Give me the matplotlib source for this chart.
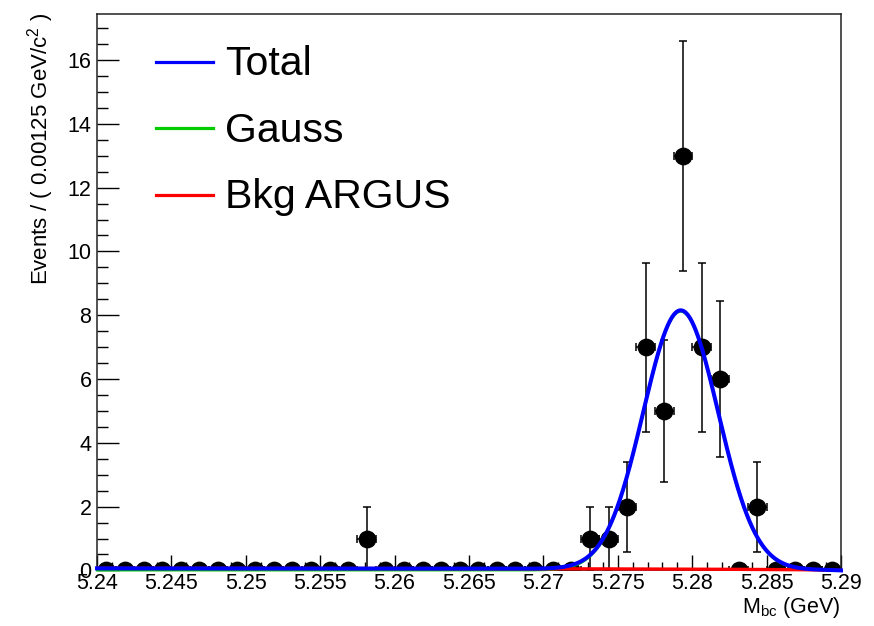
import numpy as np
import matplotlib
matplotlib.use("Agg")
import matplotlib.pyplot as plt
from matplotlib.lines import Line2D
from matplotlib.ticker import MultipleLocator, FuncFormatter

plt.rcParams['font.family'] = ['Liberation Sans', 'DejaVu Sans']
plt.rcParams['mathtext.fontset'] = 'custom'
plt.rcParams['mathtext.rm'] = 'Liberation Sans'
plt.rcParams['mathtext.it'] = 'Liberation Sans:italic'

# Histogram binning of M_bc
x_min, x_max = 5.24, 5.29
bin_width = 0.00125
n_bins = 40

# Events per bin
counts = [0, 0, 0, 0, 0, 0, 0, 0, 0, 0,
          0, 0, 0, 0, 1, 0, 0, 0, 0, 0,
          0, 0, 0, 0, 0, 0, 1, 1, 2, 7,
          5, 13, 7, 6, 0, 2, 0, 0, 0, 0]

# Fit parameters
sig_mean = 5.27923
sig_sigma = 0.00252
n_sig = 41.0
argus_m0 = 5.29
argus_c = -20.0
n_bkg = 2.0

legend_labels = ["Total", "Gauss", "Bkg ARGUS"]
legend_colors = ["#0000ff", "#00cc00", "#ff0000"]

edges = x_min + bin_width * np.arange(n_bins + 1)
centers = 0.5 * (edges[:-1] + edges[1:])
counts = np.array(counts, dtype=float)
yerr = np.sqrt(counts)


def gauss_shape(m):
    return np.exp(-0.5 * ((m - sig_mean) / sig_sigma) ** 2) / (np.sqrt(2 * np.pi) * sig_sigma)


def argus_raw(m):
    t = 1.0 - (m / argus_m0) ** 2
    t = np.clip(t, 0.0, None)
    return m * np.sqrt(t) * np.exp(argus_c * t)


mm = np.linspace(x_min, x_max, 2000)
argus_norm = np.trapezoid(argus_raw(mm), mm)
sig_curve = n_sig * bin_width * gauss_shape(mm)
bkg_curve = n_bkg * bin_width * argus_raw(mm) / argus_norm
tot_curve = sig_curve + bkg_curve

W, H = 874, 626
fig = plt.figure(figsize=(W / 100, H / 100), dpi=100)
ax = fig.add_axes([97 / W, 1 - 570.4 / H, (841 - 97) / W, (570.4 - 13.5) / H])

ax.errorbar(centers, counts, xerr=bin_width / 2, yerr=yerr, fmt='o',
            color='black', ms=11.8, elinewidth=1.1, capsize=2.6, capthick=1.1,
            zorder=2)

ax.plot(mm, sig_curve, color=legend_colors[1], lw=1.6, zorder=3, clip_on=False)
ax.plot(mm, bkg_curve, color=legend_colors[2], lw=2.4, zorder=4, clip_on=False)
ax.plot(mm, tot_curve, color=legend_colors[0], lw=2.9, zorder=5, clip_on=False)

ax.set_xlim(x_min, x_max)
ax.set_ylim(0, 17.46)

ax.xaxis.set_major_locator(MultipleLocator(0.005))
ax.xaxis.set_minor_locator(MultipleLocator(0.001))
ax.yaxis.set_major_locator(MultipleLocator(2))
ax.yaxis.set_minor_locator(MultipleLocator(0.5))
ax.xaxis.set_major_formatter(FuncFormatter(lambda v, p: f"{v:g}"))
ax.yaxis.set_major_formatter(FuncFormatter(lambda v, p: f"{v:g}"))

ax.tick_params(axis='both', which='both', direction='in', top=False, right=False,
               labelsize=15.5, colors='black')
ax.tick_params(axis='x', which='major', length=11, width=1.0, pad=2)
ax.tick_params(axis='x', which='minor', length=5.5, width=1.0)
ax.tick_params(axis='y', which='major', length=16, width=1.0, pad=4)
ax.tick_params(axis='y', which='minor', length=8, width=1.0)
for s in ax.spines.values():
    s.set_linewidth(1.1)
    s.set_color('#222222')

# Axis titles
fig.text(841 / W, 1 - 613 / H, r'M$_{\mathrm{bc}}$ (GeV)', ha='right', va='baseline',
         fontsize=15.5)
fig.text(41 / W, 1 - 13 / H, r'Events / ( 0.00125 GeV/c$^{2}$ )', rotation=90,
         ha='center', va='top', fontsize=16)

# Legend
baselines = [75, 141.5, 208]
line_ys = [62, 128, 195]
for lab, col, yb, yl in zip(legend_labels, legend_colors, baselines, line_ys):
    fig.add_artist(Line2D([156 / W, 213 / W], [1 - yl / H, 1 - yl / H],
                          color=col, lw=2.3, transform=fig.transFigure))
    fig.text(225 / W, 1 - yb / H, lab, ha='left', va='baseline', fontsize=29.5)

fig.savefig("out.png", dpi=100)
